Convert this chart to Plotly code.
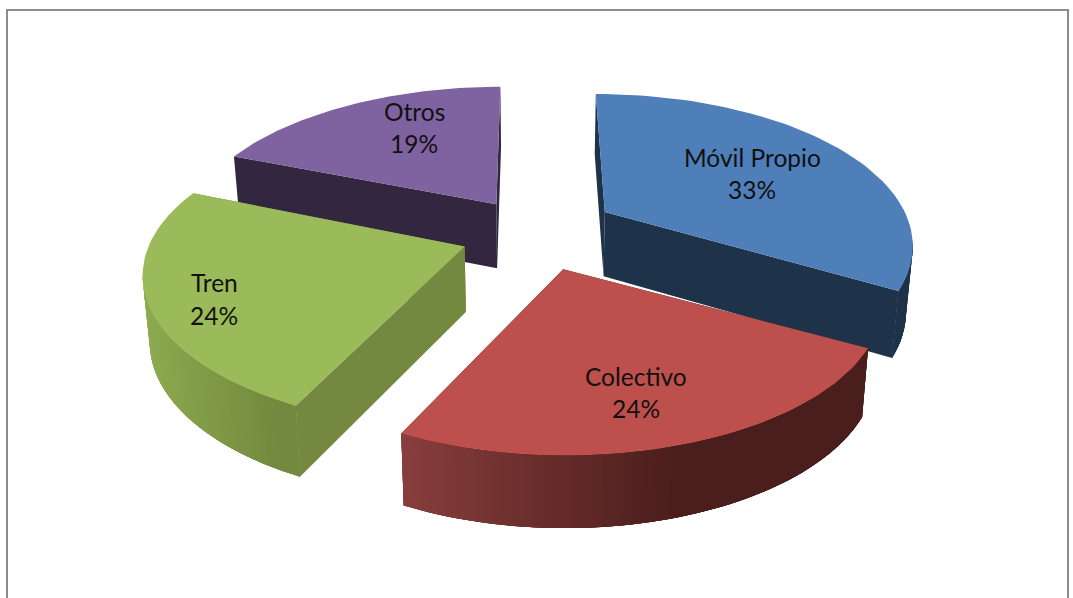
import numpy as np
import plotly.graph_objects as go

# ---- data ----
categories = ["Móvil Propio", "Colectivo", "Tren", "Otros"]
values = [33, 24, 24, 19]

# ---- styling / layout of the 3-D look ----
top_colors = ["#4e7fb9", "#bd4f4c", "#9bba5a", "#7f62a0"]
wall_colors = ["#1e3349", "#4a1e1c", "#73893f", "#33263f"]
rim_left = ["#1e3349", "#8c403e", "#8dab50", "#33263f"]
rim_right = ["#1e3349", "#4a1e1c", "#72883e", "#33263f"]
rim_x_span = [(600, 900), (402, 700), (147, 300), (230, 500)]
apex_nudge = [(2, -3), (0, 0), (0, 0), (0, 0)]
rim_nudge = [(-7, -2), (2, 1), (-5, -4), (4, 1.5)]
label_xy = [(752, 157.5, 189), (636, 376.5, 408), (214, 282.5, 315), (414, 111.5, 143)]
CX, CY, A, B, C, EXPLODE = 538, 233, 317, 152, 0.217, 0.25


def project(X, Y):
    """Perspective map of the unit disc to a tilted ellipse, relative to the projected disc centre."""
    d = 1 + C * Y
    return A * X * np.sqrt(1 - C * C) / d, -B * ((Y + C) / d - C)


def drop(x, y):
    """Where a point of the top face lands on the bottom face."""
    return x - 0.018 * (x - 537), y + 64 + 0.035 * (y - 205)


def hex2rgb(h):
    return np.array([int(h[i:i + 2], 16) for i in (1, 3, 5)], dtype=float)


def mix(c0, c1, t):
    t = float(np.clip(t, 0, 1))
    r = hex2rgb(c0) * (1 - t) + hex2rgb(c1) * t
    return "rgb(%d,%d,%d)" % tuple(r)


def poly(x, y, color):
    return go.Scatter(x=list(x) + [x[0]], y=list(y) + [y[0]], mode="lines", fill="toself",
                      fillcolor=color, line=dict(width=0),
                      hoverinfo="skip", showlegend=False)


traces = []
total = sum(values)
edges = np.concatenate([[0], np.cumsum(values)]) / total * 2 * np.pi
slices = []
for i in range(len(values)):
    t0, t1 = edges[i], edges[i + 1]
    mid = (t0 + t1) / 2
    ox, oy = project(EXPLODE * np.sin(mid), EXPLODE * np.cos(mid))
    ax, ay = CX + ox, CY + oy
    th = np.linspace(t0, t1, 60)
    rx, ry = project(np.sin(th), np.cos(th))
    rx, ry = ax + rx + rim_nudge[i][0], ay + ry + rim_nudge[i][1]
    slices.append((ax + apex_nudge[i][0], ay + apex_nudge[i][1], rx, ry))

for i in [3, 0, 2, 1]:
    ax, ay, rx, ry = slices[i]
    bax, bay = drop(ax, ay)
    brx, bry = drop(rx, ry)
    # radial walls
    traces.append(poly([rx[0], ax, bax, brx[0]], [ry[0], ay, bay, bry[0]], wall_colors[i]))
    traces.append(poly([rx[-1], ax, bax, brx[-1]], [ry[-1], ay, bay, bry[-1]], wall_colors[i]))
    # outer wall, front part only, in small overlapping steps for the shading
    x0, x1 = rim_x_span[i]
    idx = [k for k in range(len(rx)) if ry[k] >= ay + 25]
    if len(idx) > 1:
        steps = idx[:-1]
        if rx[idx[0]] > rx[idx[-1]]:  # paint from the light (left) side to the dark side
            steps = steps[::-1]
        for k in steps:
            e = min(k + 3, idx[-1])
            s = max(k - 2, idx[0])
            col = mix(rim_left[i], rim_right[i], ((rx[k] + rx[k + 1]) / 2 - x0) / (x1 - x0))
            xs = list(rx[s:e + 1]) + list(brx[s:e + 1][::-1])
            ys = list(ry[s:e + 1]) + list(bry[s:e + 1][::-1])
            traces.append(poly(xs, ys, col))
    # top face
    traces.append(poly([ax] + list(rx), [ay] + list(ry), top_colors[i]))

fig = go.Figure(traces)

annotations = []
for name, v, (lx, y1, y2) in zip(categories, values, label_xy):
    for txt, yy in ((name, y1), (f"{round(100 * v / total)}%", y2)):
        annotations.append(dict(x=lx, y=yy, text=txt, showarrow=False, xanchor="center", yanchor="middle",
                                font=dict(family="Lato", size=24.5, color="#111111")))

fig.update_layout(
    width=1073, height=598, margin=dict(l=0, r=0, t=0, b=0),
    paper_bgcolor="white", plot_bgcolor="white", showlegend=False,
    xaxis=dict(range=[0, 1073], visible=False, fixedrange=True),
    yaxis=dict(range=[598, 0], visible=False, fixedrange=True),
    annotations=annotations,
    shapes=[dict(type="rect", x0=7, y0=10, x1=1068, y1=640, line=dict(color="#8c8c8c", width=2),
                 fillcolor="rgba(0,0,0,0)", layer="below")],
)
fig.write_html("out.html", config={"displayModeBar": False},
               post_script="document.body.style.margin='0';document.body.style.overflow='hidden';")
